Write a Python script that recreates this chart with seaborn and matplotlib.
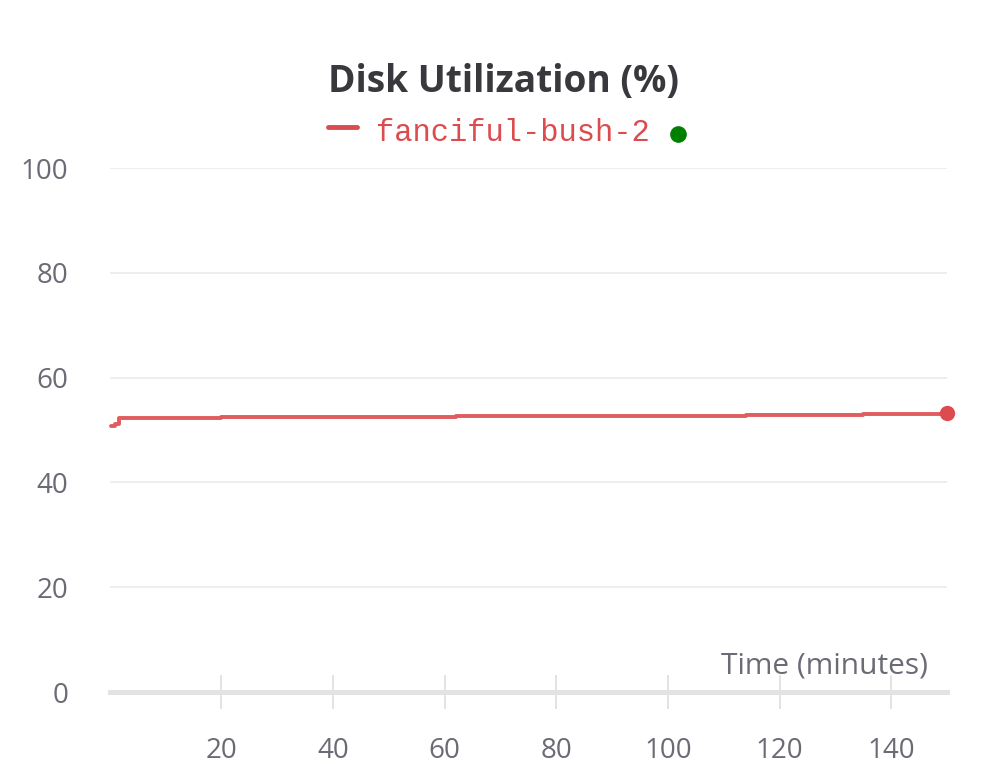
import matplotlib
matplotlib.use("Agg")
import matplotlib.pyplot as plt
from matplotlib.lines import Line2D
import seaborn as sns
import pandas as pd

# ---- data ----
time_min = [0.2, 1.0, 1.6, 20, 49, 62, 84, 114, 135, 150]
disk_util = [50.8, 51.1, 52.3, 52.4, 52.5, 52.6, 52.7, 52.9, 53.1, 53.2]
run_name = "fanciful-bush-2"
x_ticks = [20, 40, 60, 80, 100, 120, 140]
y_ticks = [0, 20, 40, 60, 80, 100]
title = "Disk Utilization (%)"
x_label = "Time (minutes)"

df = pd.DataFrame({"time": time_min, "util": disk_util})

sns.set_theme(style="white")
plt.rcParams["font.family"] = ["Open Sans", "DejaVu Sans"]

RED = "#dc4b4d"
TICK_GRAY = "#6b6b76"
AXIS_GRAY = "#e3e3e3"

fig = plt.figure(figsize=(10.08, 7.83), dpi=100)
ax = fig.add_axes([0.109, 0.1162, 0.8305, 0.6692])

sns.lineplot(data=df, x="time", y="util", ax=ax, color=RED, linewidth=2.8,
             drawstyle="steps-post", clip_on=False, zorder=3, alpha=0.9)
ax.plot([df["time"].iloc[-1]], [df["util"].iloc[-1]], marker="o", markersize=10,
        color=RED, clip_on=False, zorder=4, linestyle="none")

ax.set_xlim(0, 150)
ax.set_ylim(0, 100)
ax.set_xticks(x_ticks)
ax.set_yticks(y_ticks)

for s in ["top", "right", "left"]:
    ax.spines[s].set_visible(False)
ax.spines["bottom"].set_color(AXIS_GRAY)
ax.spines["bottom"].set_linewidth(3.6)
ax.spines["bottom"].set_zorder(1)

ax.yaxis.grid(True, color="#ebebeb", linewidth=1.2)
ax.xaxis.grid(False)
ax.set_axisbelow(True)

ax.tick_params(axis="x", bottom=True, direction="inout", length=25, width=1.4,
               color=AXIS_GRAY, labelsize=20, labelcolor=TICK_GRAY, pad=20)
ax.tick_params(axis="y", left=False, length=0, labelsize=20, labelcolor=TICK_GRAY, pad=30)

ax.set_xlabel(x_label, fontsize=21.5, color=TICK_GRAY, ha="right", va="center")
ax.xaxis.set_label_coords(0.977, 0.05)
ax.set_ylabel("")

fig.text(0.5, 0.895, title, ha="center", va="center", fontsize=26.7,
         fontweight="bold", color="#38383d")

# legend
fig.add_artist(Line2D([328 / 1008, 357 / 1008], [1 - 127 / 783, 1 - 127 / 783],
                      color=RED, linewidth=3.5, transform=fig.transFigure))
fig.text(376 / 1008, 1 - 133 / 783, run_name, ha="left", va="center",
         fontsize=22, family=["Liberation Mono", "DejaVu Sans Mono"], color=RED)
fig.add_artist(Line2D([678 / 1008], [1 - 134 / 783], marker="o", markersize=11,
                      color="#008000", linestyle="none", transform=fig.transFigure))

fig.savefig("out.png", dpi=100, facecolor="white")
